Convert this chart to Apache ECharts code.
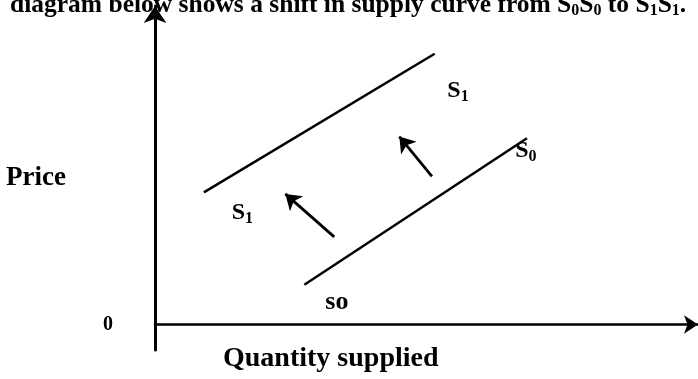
<!DOCTYPE html>
<html>
<head>
<meta charset="utf-8">
<script src="https://cdn.jsdelivr.net/npm/echarts@6/dist/echarts.min.js"></script>
<style>html,body{margin:0;padding:0;background:#fff;}#c{width:698px;height:379px;}</style>
</head>
<body>
<div id="c"></div>
<script>
// Diagram data (arbitrary units: quantity on x, price on y)
const quantityRange = [0, 100];
const priceRange = [-8, 100];
const supplyS0 = [[27.5, 12.5], [68.5, 58.5]];
const supplyS1 = [[9, 41.5], [51.5, 85]];
const shiftArrowTails = [[33, 27.5], [51, 46.5]];
const shiftArrowHeads = [[24, 41], [45, 59]];
const curveLabelTexts = ['S{s|1}', 'S{s|1}', 'S{s|0}', '{lo|so}'];
const curveLabelPoints = [[55.8, 73.4], [16.1, 35.2], [68.3, 54.4], [33.5, 7.0]];
const titleText = 'diagram below shows a shift in supply curve from S{s|0}S{s|0} to S{s|1}S{s|1}.';
const xAxisName = 'Quantity supplied';
const yAxisName = 'Price';
const originLabel = '0';

const FONT = 'Liberation Serif';
const chart = echarts.init(document.getElementById('c'));
const labelRich = {
  s: { fontFamily: FONT, fontWeight: 'bold', fontSize: 16, color: '#000', padding: [12, 0, 0, 0] },
  lo: { fontFamily: FONT, fontWeight: 'bold', fontSize: 26, color: '#000' }
};

chart.setOption({
  animation: false,
  backgroundColor: '#fff',
  title: [
    {
      text: titleText, left: 5, top: -14,
      textStyle: { fontFamily: FONT, fontWeight: 'bold', fontSize: 25.5, color: '#000', rich: {
        s: { fontFamily: FONT, fontWeight: 'bold', fontSize: 16, color: '#000', padding: [12, 0, 0, 0] } } }
    },
    {
      text: xAxisName, left: 218, top: 340,
      textStyle: { fontFamily: FONT, fontWeight: 'bold', fontSize: 28, color: '#000' }
    }
  ],
  grid: { left: 155, right: 0, top: 6, bottom: 29 },
  xAxis: {
    type: 'value', min: quantityRange[0], max: quantityRange[1],
    axisLine: { onZero: true, symbol: ['none', 'arrow'], symbolSize: [14, 14], lineStyle: { color: '#000', width: 2.5 } },
    axisTick: { show: false }, axisLabel: { show: false }, splitLine: { show: false }
  },
  yAxis: {
    type: 'value', min: priceRange[0], max: priceRange[1],
    name: yAxisName, nameLocation: 'middle', nameRotate: 0, nameGap: 89,
    nameTextStyle: { fontFamily: FONT, fontWeight: 'bold', fontSize: 27, color: '#000', padding: [0, 0, 8, 0] },
    axisLine: { onZero: true, symbol: ['none', 'arrow'], symbolSize: [17, 17], lineStyle: { color: '#000', width: 3 } },
    axisTick: { show: false },
    axisLabel: { show: true, customValues: [0], margin: 42, formatter: () => originLabel,
      fontFamily: FONT, fontWeight: 'bold', fontSize: 20, color: '#000' },
    splitLine: { show: false }
  },
  series: [
    { type: 'line', data: supplyS1, symbol: 'none', lineStyle: { color: '#000', width: 2.5 } },
    { type: 'line', data: supplyS0, symbol: 'none', lineStyle: { color: '#000', width: 2.5 } },
    {
      type: 'lines', coordinateSystem: 'cartesian2d',
      data: shiftArrowTails.map((t, i) => ({ coords: [t, shiftArrowHeads[i]] })),
      symbol: ['none', 'arrow'], symbolSize: [12, 15],
      lineStyle: { color: '#000', width: 2.8, opacity: 1 }
    },
    {
      type: 'scatter', symbolSize: 0, itemStyle: { opacity: 1 },
      data: curveLabelPoints.map((p, i) => ({ value: p, name: curveLabelTexts[i] })),
      label: { show: true, position: 'inside', formatter: p => p.name, opacity: 1,
        fontFamily: FONT, fontWeight: 'bold', fontSize: 24, color: '#000', rich: labelRich }
    }
  ]
});
</script>
</body>
</html>
